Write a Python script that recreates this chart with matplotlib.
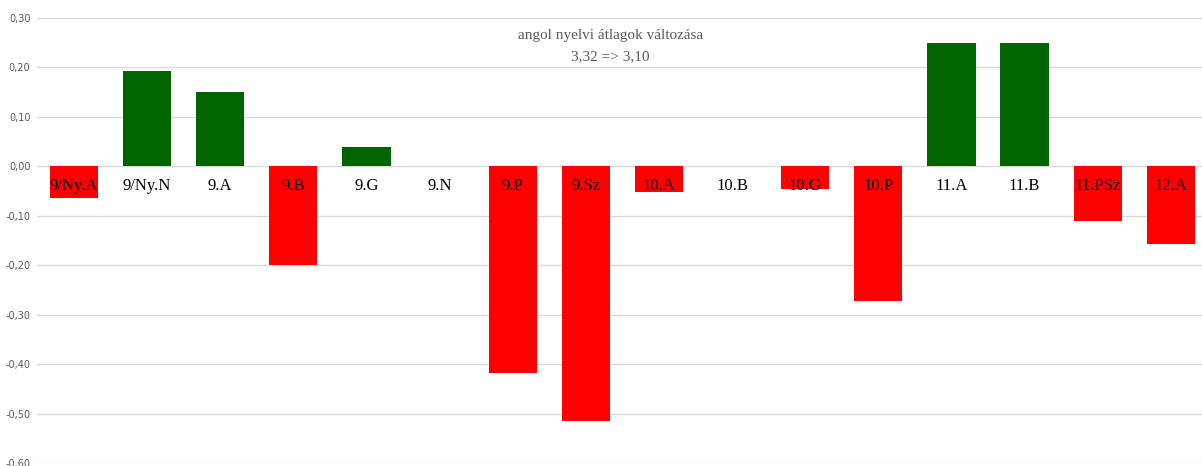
import numpy as np
import matplotlib
matplotlib.use("Agg")
import matplotlib.pyplot as plt
from matplotlib.ticker import FuncFormatter

# osztályok és az angol átlag változása
classes = ["9/Ny.A", "9/Ny.N", "9.A", "9.B", "9.G", "9.N", "9.P", "9.Sz",
           "10.A", "10.B", "10.G", "10.P", "11.A", "11.B", "11.PSz", "12.A"]
change = [-0.065, 0.192, 0.15, -0.20, 0.04, 0.0, -0.418, -0.515,
          -0.052, 0.0, -0.046, -0.273, 0.25, 0.25, -0.111, -0.158]
yticks = [0.30, 0.20, 0.10, 0.00, -0.10, -0.20, -0.30, -0.40, -0.50, -0.60]

fig = plt.figure(figsize=(12.02, 4.66), dpi=100)
ax = fig.add_axes([37.4 / 1202, 3 / 466, 1170 / 1202, 445 / 466])

x = np.arange(len(classes))
cols = ["#006400" if v > 0 else "#ff0000" for v in change]
ax.bar(x, change, width=0.66, color=cols, zorder=2)

ax.set_xlim(-0.5, len(classes) - 0.5)
ax.set_ylim(-0.6, 0.3)
ax.set_yticks(yticks)
ax.yaxis.set_major_formatter(FuncFormatter(lambda v, p: f"{v:.2f}".replace(".", ",")))
ax.tick_params(axis="y", length=0, labelsize=7, labelcolor="#595959", pad=5)
ax.set_xticks([])
ax.grid(axis="y", color="#d9d9d9", linewidth=1, zorder=0)
for s in ax.spines.values():
    s.set_visible(False)

for i, c in enumerate(classes):
    ax.text(i, -0.04, c, ha="center", va="center", fontsize=12,
            family="Liberation Serif", color="black", zorder=3)

ax.text(0.49, 0.937, "angol nyelvi átlagok változása\n3,32 => 3,10",
        transform=ax.transAxes, ha="center", va="center", fontsize=11,
        family="Liberation Serif", color="#595959", linespacing=1.75)

fig.savefig("out.png", dpi=100)
